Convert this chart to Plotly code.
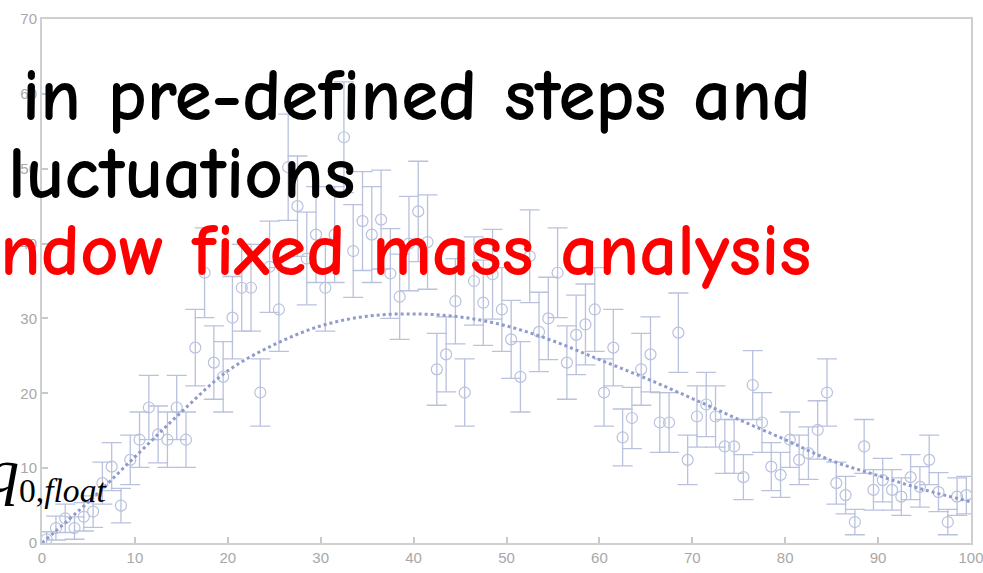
import plotly.graph_objects as go

# ---- data ----
x_vals = [0.5, 1.5, 2.5, 3.5, 4.5, 5.5, 6.5, 7.5, 8.5, 9.5,
          10.5, 11.5, 12.5, 13.5, 14.5, 15.5, 16.5, 17.5, 18.5, 19.5,
          20.5, 21.5, 22.5, 23.5, 24.5, 25.5, 26.5, 27.5, 28.5, 29.5,
          30.5, 31.5, 32.5, 33.5, 34.5, 35.5, 36.5, 37.5, 38.5, 39.5,
          40.5, 41.5, 42.5, 43.5, 44.5, 45.5, 46.5, 47.5, 48.5, 49.5,
          50.5, 51.5, 52.5, 53.5, 54.5, 55.5, 56.5, 57.5, 58.5, 59.5,
          60.5, 61.5, 62.5, 63.5, 64.5, 65.5, 66.5, 67.5, 68.5, 69.5,
          70.5, 71.5, 72.5, 73.5, 74.5, 75.5, 76.5, 77.5, 78.5, 79.5,
          80.5, 81.5, 82.5, 83.5, 84.5, 85.5, 86.5, 87.5, 88.5, 89.5,
          90.5, 91.5, 92.5, 93.5, 94.5, 95.5, 96.5, 97.5, 98.5, 99.5]
y_vals = [0.5, 2.0, 3.3, 2.0, 3.5, 4.2, 8.0, 10.2, 5.0, 11.1,
          13.8, 18.1, 14.5, 13.8, 18.1, 13.8, 26.1, 36.1, 24.1, 22.2,
          30.1, 34.1, 34.1, 20.1, 36.9, 31.2, 50.2, 45.0, 38.0, 41.2,
          34.1, 41.2, 54.2, 39.0, 43.0, 41.2, 43.2, 36.0, 32.9, 40.0,
          44.3, 40.2, 23.2, 25.2, 32.3, 20.1, 35.0, 32.1, 35.9, 31.2,
          27.2, 22.2, 38.3, 28.2, 30.0, 36.1, 24.1, 27.8, 29.2, 31.2,
          20.1, 26.1, 14.1, 16.7, 23.2, 25.2, 16.1, 16.1, 28.1, 11.1,
          16.9, 18.5, 16.9, 12.9, 12.9, 8.8, 21.1, 16.1, 10.2, 9.1,
          13.8, 11.1, 12.0, 15.1, 20.1, 8.0, 6.4, 2.8, 12.9, 7.1,
          8.4, 7.1, 6.2, 8.8, 7.5, 11.1, 6.8, 2.8, 6.2, 6.4]
err_vals = [1.0, 1.6, 1.9, 1.5, 1.9, 2.1, 2.8, 3.2, 2.3, 3.3,
            3.7, 4.3, 3.8, 3.7, 4.3, 3.7, 5.1, 6.0, 4.9, 4.7,
            5.5, 5.8, 5.8, 4.5, 6.1, 5.6, 7.1, 6.7, 6.2, 6.4,
            5.8, 6.4, 7.4, 6.2, 6.6, 6.4, 6.6, 6.0, 5.7, 6.3,
            6.7, 6.3, 4.8, 5.0, 5.7, 4.5, 5.9, 5.7, 6.0, 5.6,
            5.2, 4.7, 6.2, 5.3, 5.5, 6.0, 4.9, 5.3, 5.4, 5.6,
            4.5, 5.1, 3.8, 4.1, 4.8, 5.0, 4.0, 4.0, 5.3, 3.3,
            4.1, 4.3, 4.1, 3.6, 3.6, 3.0, 4.6, 4.0, 3.2, 3.0,
            3.7, 3.3, 3.5, 3.9, 4.5, 2.8, 2.5, 1.7, 3.6, 2.7,
            2.9, 2.7, 2.5, 3.0, 2.7, 3.3, 2.6, 1.7, 2.5, 2.5]
curve_x = [0, 5, 10, 15, 20, 25, 30, 35, 40, 45, 50,
           55, 60, 65, 70, 75, 80, 85, 90, 95, 100]
curve_y = [0.0, 5.5, 11.5, 17.5, 23.0, 26.5, 29.0, 30.3, 30.6, 30.2, 29.0,
           27.0, 24.5, 22.0, 19.3, 16.5, 13.8, 11.0, 9.0, 7.1, 5.5]
x_ticks = [0, 10, 20, 30, 40, 50, 60, 70, 80, 90, 100]
y_ticks = [0, 10, 20, 30, 40, 50, 60, 70]

text_lines = ["in pre-defined steps and", "luctuations", "ndow fixed mass analysis"]
text_colors = ["#000000", "#000000", "#ff0000"]
math_label = "<span style='font-size:64px'><i>q</i></span><sub>0,<i>float</i></sub>"

PT_COLOR = "#b9c1dd"
CURVE_COLOR = "#8f9bcc"

fig = go.Figure()
fig.add_trace(go.Scatter(
    x=x_vals, y=y_vals, mode="markers",
    marker=dict(symbol="circle-open", size=11, color=PT_COLOR, line=dict(width=1.2, color=PT_COLOR)),
    error_y=dict(type="data", array=err_vals, visible=True, color=PT_COLOR, thickness=1.3, width=10),
    showlegend=False, hoverinfo="skip"))
fig.add_trace(go.Scatter(
    x=curve_x, y=curve_y, mode="lines", line=dict(color=CURVE_COLOR, width=3, dash="dot", shape="spline"),
    showlegend=False, hoverinfo="skip"))

axis_common = dict(showgrid=False, zeroline=False, showline=True, linecolor="#cfcfcf", linewidth=2,
                   mirror=True, ticks="inside", ticklen=6, tickcolor="#c8c8c8", tickwidth=1.5,
                   automargin=False, ticklabeloverflow="allow",
                   tickfont=dict(family="Liberation Sans, Arial", size=15, color="#a8a8a8"))
fig.update_xaxes(range=[0, 100], tickvals=x_ticks, ticktext=[str(t) for t in x_ticks], **axis_common)
fig.update_yaxes(range=[0, 70], tickvals=y_ticks, ticktext=[str(t) for t in y_ticks], **axis_common)

W, H = 983, 573
L, R, T, B = 42, 12, 19, 30
pw, ph = W - L - R, H - T - B

def px2paper(px, py):
    return (px - L) / pw, (H - B - py) / ph

hand_font = "Comic Sans MS, Comic Neue, Lato, DejaVu Sans"
line_pos = [(20, 95), (6, 173), (-2, 250)]
for txt, col, (px, py) in zip(text_lines, text_colors, line_pos):
    xp, yp = px2paper(px, py)
    fig.add_annotation(xref="paper", yref="paper", x=xp, y=yp, xanchor="left", yanchor="middle",
                       text="<b>" + txt + "</b>", showarrow=False,
                       font=dict(family=hand_font, size=75, color=col))
xq, yq = px2paper(-15, 472)
fig.add_annotation(xref="paper", yref="paper", x=xq, y=yq, xanchor="left", yanchor="middle",
                   text=math_label, showarrow=False,
                   font=dict(family="Liberation Serif, Times New Roman", size=48, color="#000000"))

fig.update_layout(width=W, height=H, margin=dict(l=L, r=R, t=T, b=B, autoexpand=False),
                  paper_bgcolor="white", plot_bgcolor="white")
fig.write_html("out.html")
